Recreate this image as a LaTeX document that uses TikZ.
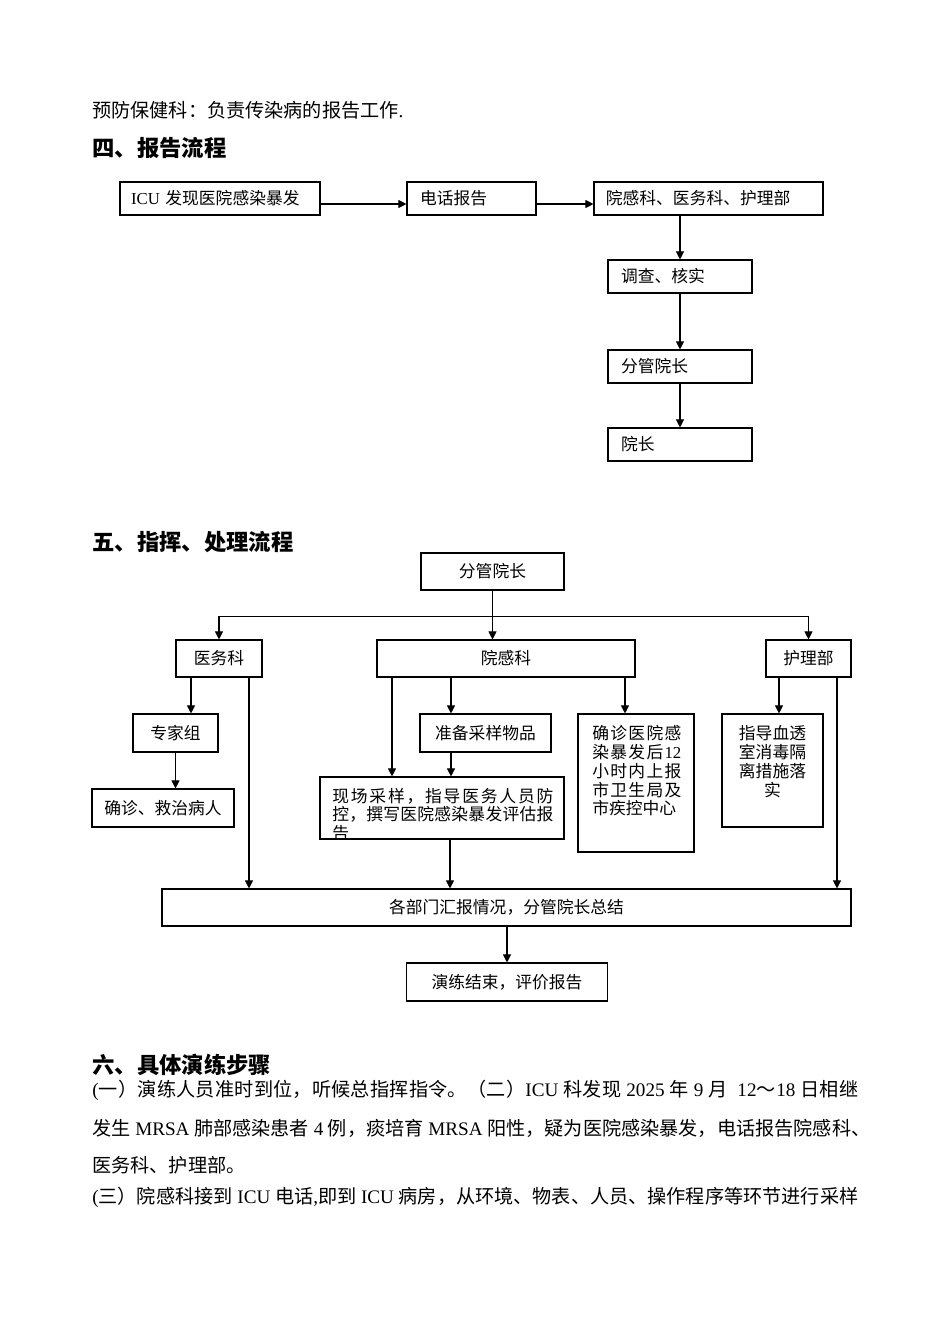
\documentclass[tikz,border=0pt]{standalone}
\usepackage{fontspec}
\setmainfont{Noto Sans CJK SC}
\newfontfamily\lat{Liberation Serif}
\usetikzlibrary{arrows.meta,calc}
\def\sprend{\sprend}
\def\spr#1{\ifx\sprend#1\else#1\hfil\expandafter\spr\fi}
\tikzset{
  bx/.style={draw, line width=0.7pt, inner sep=0pt, font=\fontsize{10.5}{12}\selectfont},
  sz/.style 2 args={minimum width=#1*0.6266pt, minimum height=#2*0.6266pt},
  arr/.style={line width=0.65pt, -{Triangle[length=5pt,width=5pt]}},
  txt/.style={inner sep=0pt, font=\fontsize{10.5}{12}\selectfont},
  body/.style={anchor=west, inner sep=0pt, font=\fontsize{12}{14}\selectfont},
  head/.style={anchor=west, inner sep=0pt, font=\fontsize{14}{16}\selectfont\bfseries},
}
\begin{document}
\begin{tikzpicture}[x=0.6266pt, y=-0.6266pt]
\useasboundingbox[fill=white] (0,0) rectangle (950,1344);

% ---- body text and headings
\node[body] (t0) at (92,110) {预防保健科：负责传染病的报告工作{\lat .}};
\node[head] (h4) at (92,148) {四、报告流程};
\node[head] (h5) at (92,542) {五、指挥、处理流程};
\node[head] (h6) at (92,1065) {六、具体演练步骤};
\node[body] (s1) at (92,1090) {\makebox[480pt][s]{\spr {{\lat (}}一）演练人员准时到位，听候总指挥指令。（二）{{\lat ICU\ }}科发现{{\lat\ 2025\ }}年{{\lat\ 9\ }}月{{\lat\ \ 12}}～{{\lat 18\ }}日相继\sprend\unskip}};
\node[body] (s2) at (92,1128) {\makebox[487.5pt][s]{\spr 发生{{\lat\ MRSA\ }}肺部感染患者{{\lat\ 4\ }}例，痰培育{{\lat\ MRSA\ }}阳性，疑为医院感染暴发，电话报告院感科、\sprend\unskip}};
\node[body] (s3) at (92,1165) {医务科、护理部。};
\node[body] (s4) at (92,1197) {\makebox[480pt][s]{\spr {{\lat (}}三）院感科接到{{\lat\ ICU\ }}电话{{\lat ,}}即到{{\lat\ ICU\ }}病房，从环境、物表、人员、操作程序等环节进行采样\sprend\unskip}};

% ---- report flow
\node[bx, sz={200}{33}, text width=111.5pt, align=left] (a) at (220,198.5) {{\lat ICU} 发现医院感染暴发};
\node[bx, sz={129}{33}, text width=64.5pt, align=left] (b) at (471.5,198.5) {电话报告};
\node[bx, sz={229}{33}, text width=128.5pt, align=left] (c) at (708.5,198.5) {院感科、医务科、护理部};
\node[bx, sz={144}{33}, text width=73.9pt, align=left] (d) at (680,276.5) {调查、核实};
\node[bx, sz={144}{33}, text width=73.9pt, align=left] (e) at (680,366.5) {分管院长};
\node[bx, sz={144}{33}, text width=73.9pt, align=left] (f) at (680,444.5) {院长};

\draw[arr] ($(a.east)+(0,5.5)$) -- ($(b.west)+(0,5.5)$);
\draw[arr] ($(b.east)+(0,5.5)$) -- ($(c.west)+(0,5.5)$);
\draw[arr] (c.south -| d.north) -- (d.north);
\draw[arr] (d) -- (e);
\draw[arr] (e) -- (f);

% ---- command flow
\node[bx, sz={143}{37}] (g) at (492.5,571.5) {分管院长};
\node[bx, sz={86}{37}] (h) at (219,658.5) {医务科};
\node[bx, sz={258}{37}] (i) at (506,658.5) {院感科};
\node[bx, sz={85}{37}] (j) at (808.5,658.5) {护理部};
\node[bx, sz={85}{38}] (k) at (175.5,733) {专家组};
\node[bx, sz={142}{38}] (l) at (163,808) {确诊、救治病人};
\node[bx, sz={131}{38}] (n) at (485.5,733) {准备采样物品};
\node[bx, sz={244}{62}] (m) at (442,808) {};
\node[bx, sz={116}{138}] (o) at (636,783) {};
\node[bx, sz={101}{113}] (p) at (772.5,770.5) {};
\node[bx, sz={689}{37}] (q) at (506.5,907.5) {各部门汇报情况，分管院长总结};
\node[bx, sz={201}{38}] (r) at (507,982) {演练结束，评价报告};

% texts inside the tall boxes
\node[txt, anchor=west] (m1) at (332,796) {\makebox[138.5pt][s]{\spr 现场采样，指导医务人员防\sprend\unskip}};
\node[txt, anchor=west] (m2) at (332,814.5) {\makebox[138.5pt][s]{\spr 控，撰写医院感染暴发评估报\sprend\unskip}};
\begin{scope}
\clip (m.south west) rectangle (m.north east);
\node[txt, anchor=west] (m3) at (332,833) {告};
\end{scope}
\node[txt, anchor=west] (o1) at (592,733) {\makebox[55.8pt][s]{\spr 确诊医院感\sprend\unskip}};
\node[txt, anchor=west] (o2) at (592,752) {\makebox[55.8pt][s]{\spr 染暴发后{{\lat 12}}\sprend\unskip}};
\node[txt, anchor=west] (o3) at (592,771) {\makebox[55.8pt][s]{\spr 小时内上报\sprend\unskip}};
\node[txt, anchor=west] (o4) at (592,790) {\makebox[55.8pt][s]{\spr 市卫生局及\sprend\unskip}};
\node[txt, anchor=west] (o5) at (592,808.5) {市疾控中心};
\node[txt] (p1) at (772.5,733) {指导血透};
\node[txt] (p2) at (772.5,752) {室消毒隔};
\node[txt] (p3) at (772.5,771) {离措施落};
\node[txt] (p4) at (772.5,790) {实};

% connectors
\draw[arr] (g.south) -- (g.south |- i.north);
\draw[arr] (g.south) -- ++(0,26) -| (h.north);
\draw[arr] (g.south) -- ++(0,26) -| (j.north);

\draw[arr] ($(h.south)+(-28,0)$) coordinate (h1) -- (h1 |- k.north);
\draw[arr] ($(h.south)+(30,0)$) coordinate (h2) -- (h2 |- q.north);
\draw[arr] (k.south) -- (k.south |- l.north);

\draw[arr] ($(i.south)+(-114,0)$) coordinate (i1) -- (i1 |- m.north);
\draw[arr] ($(i.south)+(-55,0)$) coordinate (i2) -- (i2 |- n.north);
\draw[arr] ($(i.south)+(119,0)$) coordinate (i3) -- (i3 |- o.north);
\draw[arr] (n.south -| i2) -- (i2 |- m.north);
\draw[arr] ($(m.south)+(8,0)$) coordinate (m4) -- (m4 |- q.north);

\draw[arr] ($(j.south)+(-29.5,0)$) coordinate (j1) -- (j1 |- p.north);
\draw[arr] ($(j.south)+(28.5,0)$) coordinate (j2) -- (j2 |- q.north);

\draw[arr] (q.south -| r.north) -- (r.north);
\end{tikzpicture}
\end{document}
